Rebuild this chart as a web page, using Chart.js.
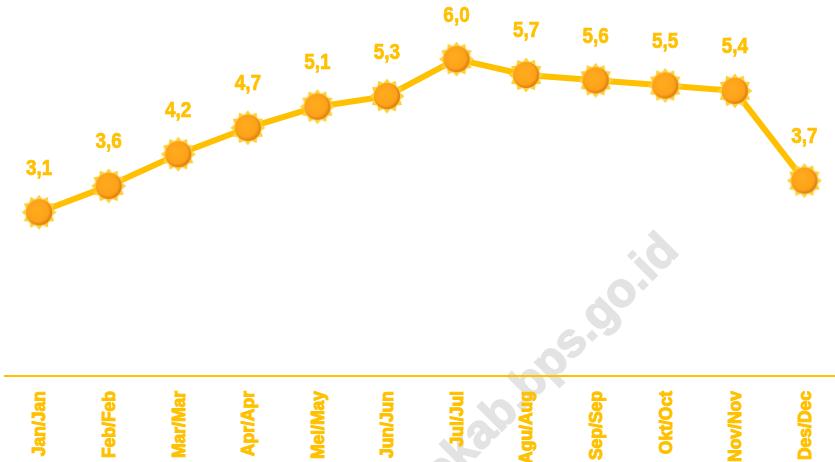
<!DOCTYPE html>
<html><head><meta charset="utf-8">
<style>html,body{margin:0;padding:0;background:#fff;overflow:hidden}#w{width:835px;height:462px;position:relative}</style>
<script src="https://cdn.jsdelivr.net/npm/chart.js@4"></script></head>
<body><div id="w"><canvas id="c" width="835" height="462"></canvas></div>
<script>
const months=["Jan/Jan","Feb/Feb","Mar/Mar","Apr/Apr","Mei/May","Jun/Jun","Jul/Jul","Agu/Aug","Sep/Sep","Okt/Oct","Nov/Nov","Des/Dec"];
const values=[3.1,3.6,4.2,4.7,5.1,5.3,6.0,5.7,5.6,5.5,5.4,3.7];
const watermark="ekab.bps.go.id";
const GOLD="#FFC000";
const FONT='"Liberation Sans Narrow","Liberation Sans",sans-serif';

function makeSun(){
  const s=document.createElement('canvas'),S=38;s.width=s.height=S;
  const g=s.getContext('2d'),c=S/2,n=12,R=17.5,r=13.5;
  g.beginPath();
  for(let i=0;i<n*2;i++){
    const a=i*Math.PI/n-Math.PI/2,q=i%2?r:R;
    g.lineTo(c+q*Math.cos(a),c+q*Math.sin(a));
  }
  g.closePath();g.fillStyle="#FFCF38";g.fill();
  const o=g.createRadialGradient(c-2.5,c-2.5,3,c-1,c-1,14);
  o.addColorStop(0,"#FFAA1C");o.addColorStop(.72,"#FDA21A");o.addColorStop(1,"#DD7A10");
  g.beginPath();g.arc(c,c,13,0,Math.PI*2);g.fillStyle=o;g.fill();
  return s;
}
const sun=makeSun();

const decor={
  id:'decor',
  beforeDraw(ch){
    const g=ch.ctx;g.save();
    g.translate(680.4,252.4);g.rotate(-Math.PI/4);
    g.font='bold 48px "Liberation Sans",sans-serif';
    g.fillStyle="#E3E3E3";g.strokeStyle="#E3E3E3";g.lineWidth=1.5;g.textAlign="right";g.textBaseline="alphabetic";
    g.fillText(watermark,0,0);g.strokeText(watermark,0,0);
    g.restore();
  },
  afterDatasetsDraw(ch){
    const g=ch.ctx,m=ch.getDatasetMeta(0);
    m.data.forEach((p,i)=>{
      const t=values[i].toFixed(1).replace('.',',');
      g.save();
      g.translate(p.x,p.y-43.5);g.scale(.88,1);
      g.font='bold 21.5px '+FONT;g.fillStyle=GOLD;g.strokeStyle=GOLD;g.lineWidth=.7;
      g.textAlign="center";g.textBaseline="middle";
      g.fillText(t,0,0);g.strokeText(t,0,0);
      g.restore();
    });
  }
};

new Chart(document.getElementById('c'),{
  type:'line',
  data:{datasets:[{
    data:values.map((v,i)=>({x:i,y:v})),
    borderColor:GOLD,borderWidth:6,tension:0,clip:false,
    pointStyle:sun,pointRadius:19,pointHoverRadius:19
  }]},
  plugins:[decor],
  options:{
    responsive:false,animation:false,
    layout:{autoPadding:false,padding:{left:5,right:0,top:0,bottom:0}},
    plugins:{legend:{display:false},tooltip:{enabled:false}},
    scales:{
      x:{type:'linear',min:-0.49,max:11.44,
        afterBuildTicks(a){a.ticks=months.map((_,i)=>({value:i}));},
        afterFit(a){a.height=86;a.paddingLeft=0;a.paddingRight=0;},
        grid:{display:false,drawTicks:false},
        border:{display:true,color:GOLD,width:2},
        ticks:{autoSkip:false,minRotation:90,maxRotation:90,padding:15,labelOffset:1.5,color:GOLD,
          textStrokeColor:GOLD,textStrokeWidth:1,
          font:{family:FONT,size:17.5,weight:'bold'},
          callback:v=>months[v]}
      },
      y:{display:false,min:0,max:7.12}
    }
  }
});
</script></body></html>
